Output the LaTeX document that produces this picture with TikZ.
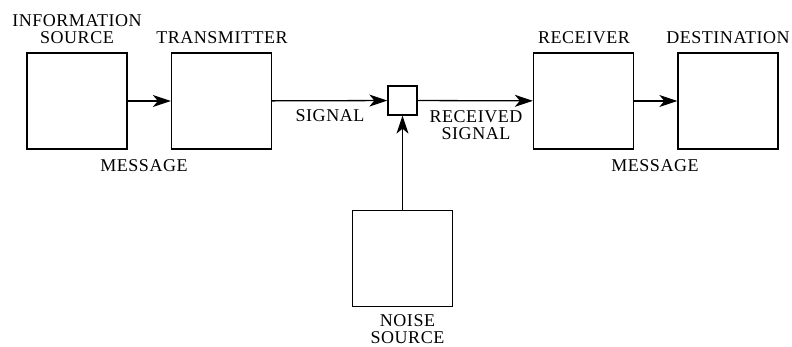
\documentclass[tikz,border=0pt]{standalone}
\usepackage{fontspec}
\setmainfont{Liberation Serif}[LetterSpace=3]
\usetikzlibrary{arrows.meta}
\newcommand{\lbl}{\fontsize{18}{17}\selectfont}

\begin{document}
\begin{tikzpicture}[x=1pt,y=-1pt,line width=1.3pt,
  blk/.style={draw,minimum width=100pt,minimum height=96pt,inner sep=0pt},
  sig/.style={-{Stealth[length=18pt,width=12pt,inset=5pt]}},
  txt/.style={font=\lbl,inner sep=0pt,align=center}]
  \useasboundingbox (0,0) rectangle (792,347);
  \node[blk] (src)   at (77,101)    {};
  \node[blk] (tx)    at (221.5,101) {};
  \node[draw,minimum size=29pt,inner sep=0pt] (mix) at (402.5,100.5) {};
  \node[blk] (rx)    at (583.5,101) {};
  \node[blk] (dst)   at (728,101)   {};
  \node[blk] (noise) at (402.5,258.5) {};
  \draw[sig] (src) -- (tx);
  \draw[sig] (tx) -- (mix);
  \draw[sig] (mix) -- (rx);
  \draw[sig] (rx) -- (dst);
  \draw[sig] (noise) -- (mix);
  \node[txt,anchor=north] (srcL) at (77,14)  {INFORMATION\\SOURCE};
  \node[txt,anchor=base]  (txL)  at (222,44) {TRANSMITTER};
  \node[txt,anchor=base]  (rxL)  at (584,44) {RECEIVER};
  \node[txt,anchor=base]  (dstL) at (728,44) {DESTINATION};
  \node[txt,anchor=base]  (sigL) at (330,122) {SIGNAL};
  \node[txt,anchor=base]  (msgA) at (144,172) {MESSAGE};
  \node[txt,anchor=north] (rcvL) at (476,110) {RECEIVED\\SIGNAL};
  \node[txt,anchor=base]  (msgB) at (655,172) {MESSAGE};
  \node[txt,anchor=north] (nsL)  at (407.5,314) {NOISE\\SOURCE};
\end{tikzpicture}
\end{document}
